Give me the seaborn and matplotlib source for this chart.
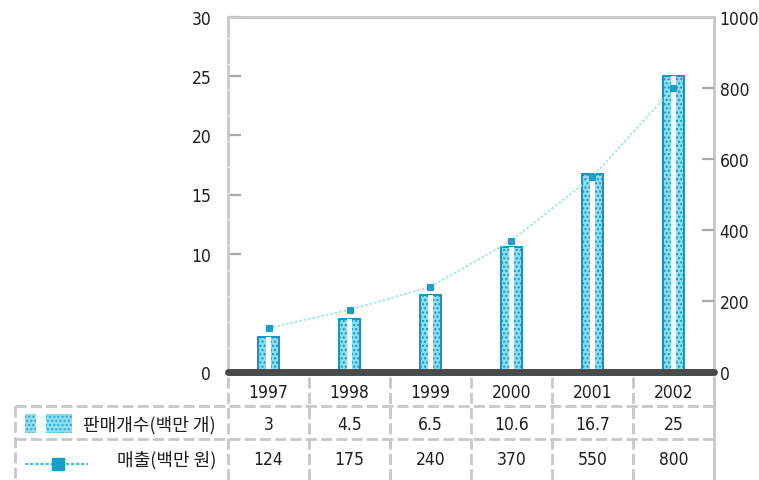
import numpy as np
import pandas as pd
import matplotlib
matplotlib.use("Agg")
import matplotlib.pyplot as plt
import matplotlib.transforms as mtransforms
from matplotlib.lines import Line2D
from matplotlib.patches import Rectangle
from matplotlib import font_manager
import seaborn as sns

# ---- data ----
years = ["1997", "1998", "1999", "2000", "2001", "2002"]
units = [3, 4.5, 6.5, 10.6, 16.7, 25]           # 판매개수 (백만 개)
sales = [124, 175, 240, 370, 550, 800]          # 매출 (백만 원)
left_ticks = [0, 10, 15, 20, 25, 30]
right_ticks = [0, 200, 400, 600, 800, 1000]
units_label = "판매개수(백만 개)"
sales_label = "매출(백만 원)"
units_text = ["3", "4.5", "6.5", "10.6", "16.7", "25"]
sales_text = ["124", "175", "240", "370", "550", "800"]

sns.set_theme(style="white")
plt.rcParams["font.family"] = ["DejaVu Sans", "Noto Sans CJK KR"]
plt.rcParams["font.stretch"] = "condensed"
plt.rcParams["hatch.color"] = "#2aa6d6"
plt.rcParams["hatch.linewidth"] = 1.0

NUM = font_manager.FontProperties(family="DejaVu Sans", stretch="condensed", size=12.5)
KOR = font_manager.FontProperties(family=["Noto Sans CJK KR", "DejaVu Sans"], size=13)
TXT = "#1e1e1e"

W, H = 759, 481
fig = plt.figure(figsize=(W / 100, H / 100), dpi=100)

def fx(px):
    return px / W

def fy(py):
    return 1 - py / H

ax_l, ax_r, ax_t, ax_b = 228, 714, 18, 373
ax = fig.add_axes([fx(ax_l), fy(ax_b), fx(ax_r - ax_l), (ax_b - ax_t) / H])

df = pd.DataFrame({"year": years, "units": units, "sales": sales})
pos = np.arange(len(years))

# bars: patterned cyan column with a light inner stripe
sns.barplot(data=df, x="year", y="units", ax=ax, width=0.27, color="#8fdcec",
            edgecolor="#1592c6", linewidth=1.4, saturation=1)
for p in ax.patches:
    p.set_hatch("....")
sns.barplot(data=df, x="year", y="units", ax=ax, width=0.07, color="#f2fdff",
            linewidth=0, saturation=1)

ax.set_xlim(-0.5, len(years) - 0.5)
ax.set_ylim(0, 30)
ax.set_xlabel("")
ax.set_ylabel("")
ax.set_xticks([])
ax.set_yticks(left_ticks)
ax.set_yticklabels([str(t) for t in left_ticks], fontproperties=NUM, color=TXT)
ax.tick_params(axis="y", direction="in", length=9, width=1.6, color="#a8a8a8",
               pad=12, left=True)
for t in (ax.yaxis.get_major_ticks()[0], ax.yaxis.get_major_ticks()[-1]):
    t.tick1line.set_visible(False)

for s in ("top", "right"):
    ax.spines[s].set_color("#c8c8c8")
    ax.spines[s].set_linewidth(2)
ax.spines["bottom"].set_visible(False)
ax.spines["left"].set_color("#c8c8c8")
ax.spines["left"].set_linewidth(2)
ax.spines["left"].set_linestyle((0, (8, 1.3)))

# sales line on the secondary axis
ax2 = ax.twinx()
sns.lineplot(x=pos, y=sales, ax=ax2, color="#9fe6f2", linewidth=1.3,
             linestyle=(0, (1.5, 1)), marker="s", markersize=4.5,
             markerfacecolor="#14a0c8", markeredgecolor="#14a0c8")
ax2.set_ylim(0, 1000)
ax2.set_xlim(-0.5, len(years) - 0.5)
ax2.set_yticks(right_ticks)
ax2.set_yticklabels([str(t) for t in right_ticks], fontproperties=NUM, color=TXT)
ax2.tick_params(axis="y", direction="in", length=9, width=1.6, color="#a8a8a8",
                pad=4, right=True)
for t in (ax2.yaxis.get_major_ticks()[0], ax2.yaxis.get_major_ticks()[-1]):
    t.tick2line.set_visible(False)
for s in ax2.spines.values():
    s.set_visible(False)
ax2.set_ylabel("")

# dark baseline
ax.axhline(0, color="#4a4a4a", linewidth=5, clip_on=False, zorder=5)

# ---- data table below the plot ----
grid_kw = dict(color="#c8c8c8", linewidth=2, linestyle=(0, (4, 1.5)))
blend = mtransforms.blended_transform_factory(ax.transData, fig.transFigure)

row_year, row1, row2 = 393, 425, 460
line1, line2 = 407, 440

for i, y in enumerate(years):
    fig.text(pos[i], fy(row_year), y, transform=blend, ha="center", va="center",
             fontproperties=NUM, color=TXT)
    fig.text(pos[i], fy(row1), units_text[i], transform=blend, ha="center",
             va="center", fontproperties=NUM, color=TXT)
    fig.text(pos[i], fy(row2), sales_text[i], transform=blend, ha="center",
             va="center", fontproperties=NUM, color=TXT)

for b in np.arange(len(years) - 1) + 0.5:
    fig.add_artist(Line2D([b, b], [fy(378), fy(481)], transform=blend, **grid_kw))

for yy in (line1, line2):
    fig.add_artist(Line2D([fx(15), fx(ax_r)], [fy(yy), fy(yy)], **grid_kw))
fig.add_artist(Line2D([fx(15), fx(15)], [fy(line1), fy(481)], **grid_kw))
fig.add_artist(Line2D([fx(ax_l), fx(ax_l)], [fy(378), fy(481)], **grid_kw))
fig.add_artist(Line2D([fx(ax_r), fx(ax_r)], [fy(378), fy(481)],
                      color="#c8c8c8", linewidth=2))

# row legends
fig.add_artist(Rectangle((fx(25), fy(434)), fx(47), (434 - 415) / H,
                         facecolor="#8fdcec", edgecolor="#2aa6d6", linewidth=0,
                         hatch="....", transform=fig.transFigure))
fig.add_artist(Rectangle((fx(36), fy(434)), fx(10), (434 - 415) / H,
                         facecolor="#f2fdff", linewidth=0,
                         transform=fig.transFigure))
fig.text(fx(216), fy(row1), units_label, ha="right", va="center",
         fontproperties=KOR, color=TXT)

fig.add_artist(Line2D([fx(25), fx(88)], [fy(465), fy(465)], color="#3cc0d8",
                      linewidth=1.6, linestyle=(0, (1.5, 0.8))))
fig.add_artist(Line2D([fx(58)], [fy(465)], marker="s", markersize=8,
                      color="#14a0c8", linestyle="none"))
fig.text(fx(216), fy(row2), sales_label, ha="right", va="center",
         fontproperties=KOR, color=TXT)

fig.savefig("out.png", dpi=100)
